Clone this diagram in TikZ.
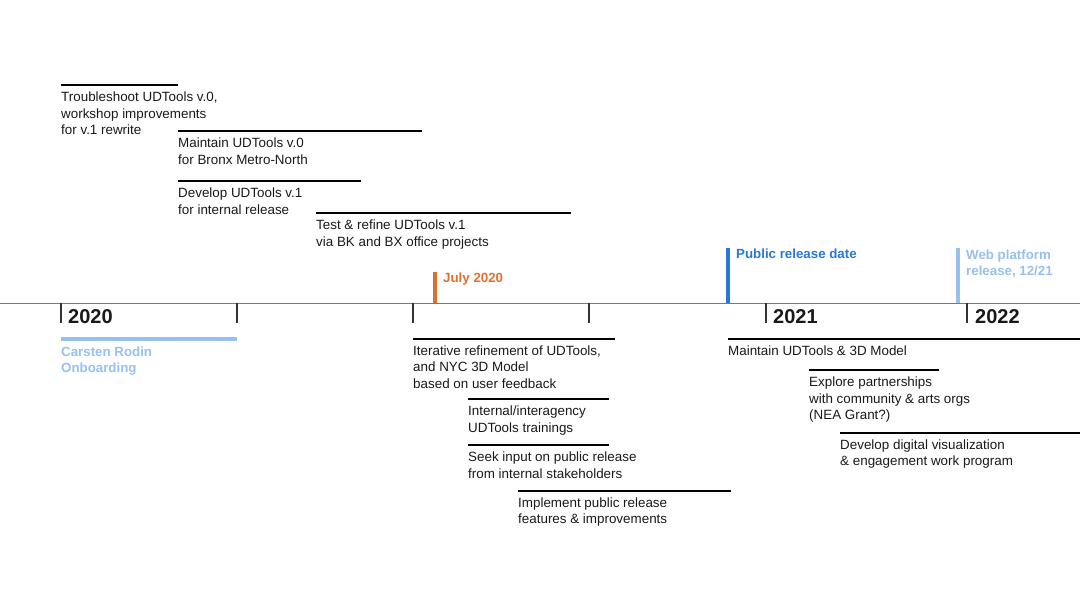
\documentclass[tikz,border=0pt]{standalone}
\usepackage{fontspec}
\setmainfont{Liberation Sans}
\usetikzlibrary{positioning}

\definecolor{julyorange}{RGB}{221,112,46}
\definecolor{releaseblue}{RGB}{40,120,215}
\definecolor{webblue}{RGB}{152,192,238}
\definecolor{axisgray}{RGB}{120,120,120}

\begin{document}
\begin{tikzpicture}[
    x=1pt, y=-1pt,
    task/.style={align=left, inner sep=0pt, text=black!90, font=\fontsize{13.4}{16.3}\selectfont},
    taskbar/.style={line width=1.5pt, draw=black},
    axis/.style={line width=0.9pt, draw=axisgray},
    tick/.style={line width=1.2pt, draw=black!80},
    year/.style={inner sep=0pt, text=black!90, font=\fontsize{20}{24}\selectfont\bfseries},
    marker/.style={line width=4pt},
    milestone/.style={align=left, inner sep=0pt, font=\fontsize{13.3}{15.7}\selectfont\bfseries}
]

% Frame
\useasboundingbox (0,0) rectangle (1080,608);

% Timeline
\coordinate (ax0) at (0,303);
\coordinate (ax1) at (1080,303);
\draw[axis] (ax0) -- (ax1);

% Ticks
\coordinate (k1) at (61,303);  \coordinate (k1-e) at (61,323);
\coordinate (k2) at (237,303); \coordinate (k2-e) at (237,323);
\coordinate (k3) at (413,303); \coordinate (k3-e) at (413,323);
\coordinate (k4) at (589,303); \coordinate (k4-e) at (589,323);
\coordinate (k5) at (766,303); \coordinate (k5-e) at (766,323);
\coordinate (k6) at (967,303); \coordinate (k6-e) at (967,323);
\draw[tick] (k1) -- (k1-e);
\draw[tick] (k2) -- (k2-e);
\draw[tick] (k3) -- (k3-e);
\draw[tick] (k4) -- (k4-e);
\draw[tick] (k5) -- (k5-e);
\draw[tick] (k6) -- (k6-e);

% Years
\node[year, right=7pt of k1-e, anchor=base west] (y2020) {2020};
\node[year, right=7pt of k5-e, anchor=base west] (y2021) {2021};
\node[year, right=8pt of k6-e, anchor=base west] (y2022) {2022};

% July 2020
\coordinate (jb) at (435,303); \coordinate (jt) at (435,272);
\draw[marker, julyorange] (jb) -- (jt);
\node[milestone, text=julyorange, below right=1pt and 8pt of jt] (july) {July 2020};

% Public release
\coordinate (pb) at (728,303); \coordinate (pt) at (728,248);
\draw[marker, releaseblue] (pb) -- (pt);
\node[milestone, text=releaseblue, below right=1pt and 8pt of pt] (public) {Public release date};

% Web platform
\coordinate (wb) at (958,303); \coordinate (wt) at (958,248);
\draw[marker, webblue] (wb) -- (wt);
\node[milestone, text=webblue, below right=1.5pt and 8pt of wt] (web) {Web platform\\release, 12/21};

% Onboarding
\coordinate (cs) at (61,339); \coordinate (ce) at (237,339);
\draw[marker, webblue] (cs) -- (ce);
\node[milestone, text=webblue, below right=7.5pt and 0pt of cs] (carsten) {Carsten Rodin\\Onboarding};

% Troubleshoot
\coordinate (t1s) at (61,85); \coordinate (t1e) at (178,85);
\draw[taskbar] (t1s) -- (t1e);
\node[task, below right=7pt and 0pt of t1s] (trouble) {Troubleshoot UDTools v.0,\\workshop improvements\\for v.1 rewrite};

% Maintain v.0
\coordinate (t2s) at (178,131); \coordinate (t2e) at (422,131);
\draw[taskbar] (t2s) -- (t2e);
\node[task, below right=7pt and 0pt of t2s] (maintain0) {Maintain UDTools v.0\\for Bronx Metro-North};

% Develop v.1
\coordinate (t3s) at (178,181); \coordinate (t3e) at (361,181);
\draw[taskbar] (t3s) -- (t3e);
\node[task, below right=7pt and 0pt of t3s] (develop1) {Develop UDTools v.1\\for internal release};

% Test & refine
\coordinate (t4s) at (316,213); \coordinate (t4e) at (571,213);
\draw[taskbar] (t4s) -- (t4e);
\node[task, below right=7pt and 0pt of t4s] (test) {Test \& refine UDTools v.1\\via BK and BX office projects};

% Iterative refinement
\coordinate (t5s) at (413,339); \coordinate (t5e) at (615,339);
\draw[taskbar] (t5s) -- (t5e);
\node[task, below right=6.5pt and 0pt of t5s] (iterate) {Iterative refinement of UDTools,\\and NYC 3D Model\\based on user feedback};

% Trainings
\coordinate (t6s) at (468,399); \coordinate (t6e) at (609,399);
\draw[taskbar] (t6s) -- (t6e);
\node[task, below right=7pt and 0pt of t6s] (train) {Internal/interagency\\UDTools trainings};

% Seek input
\coordinate (t7s) at (468,445); \coordinate (t7e) at (609,445);
\draw[taskbar] (t7s) -- (t7e);
\node[task, below right=7pt and 0pt of t7s] (seek) {Seek input on public release\\from internal stakeholders};

% Implement
\coordinate (t8s) at (518,491); \coordinate (t8e) at (731,491);
\draw[taskbar] (t8s) -- (t8e);
\node[task, below right=6.5pt and 0pt of t8s] (implement) {Implement public release\\features \& improvements};

% Maintain model
\coordinate (t9s) at (728,339); \coordinate (t9e) at (1080,339);
\draw[taskbar] (t9s) -- (t9e);
\node[task, below right=6.5pt and 0pt of t9s] (maintain) {Maintain UDTools \& 3D Model};

% Partnerships
\coordinate (t10s) at (809,370); \coordinate (t10e) at (939,370);
\draw[taskbar] (t10s) -- (t10e);
\node[task, below right=7pt and 0pt of t10s] (partner) {Explore partnerships\\with community \& arts orgs\\(NEA Grant?)};

% Visualization
\coordinate (t11s) at (840,433); \coordinate (t11e) at (1080,433);
\draw[taskbar] (t11s) -- (t11e);
\node[task, below right=6.5pt and 0pt of t11s] (visual) {Develop digital visualization\\\& engagement work program};

\end{tikzpicture}
\end{document}
